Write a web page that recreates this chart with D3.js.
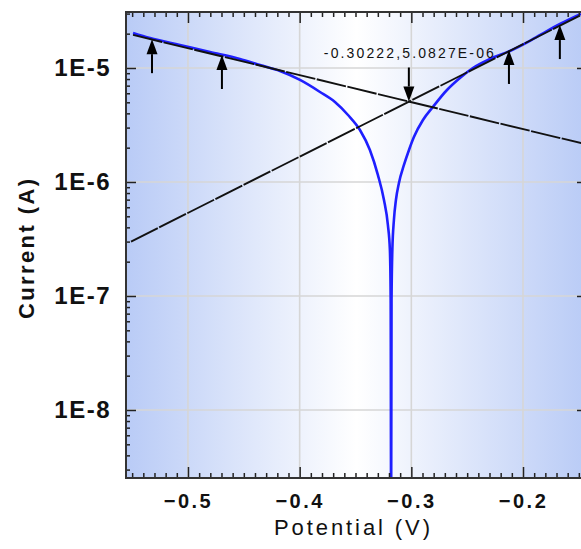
<!DOCTYPE html>
<meta charset="utf-8">
<style>
    body { margin: 0; background: #fff; }
    text { font-family: "Liberation Sans", Arial, sans-serif; fill: #111; }
</style>
<body>
<script src="https://cdn.jsdelivr.net/npm/d3@7"></script>
<script>

// measured polarization curve: potential (V) and current (A)
var potential = [-0.5492, -0.5340, -0.5072, -0.4803, -0.4535, -0.4355, -0.4176, -0.3997, -0.3818, -0.3684,
                 -0.3567, -0.3460, -0.3371, -0.3299, -0.3245, -0.3210, -0.3192, -0.3185, -0.31810, -0.31772,
                 -0.3170, -0.3156, -0.3138, -0.3111, -0.3066, -0.3021, -0.2977, -0.2896, -0.2807, -0.2681,
                 -0.2565, -0.2449, -0.2296, -0.2117, -0.1938, -0.1786, -0.1669, -0.1482];
var current = [2.03e-5, 1.83e-5, 1.59e-5, 1.38e-5, 1.20e-5, 1.06e-5, 9.4e-6, 7.85e-6, 6.16e-6, 5.03e-6,
               3.87e-6, 2.86e-6, 1.91e-6, 1.15e-6, 6.95e-7, 4.20e-7, 2.53e-7, 9.2e-8, 1e-9, 9.2e-8,
               2.53e-7, 4.64e-7, 6.95e-7, 9.8e-7, 1.41e-6, 1.91e-6, 2.48e-6, 3.50e-6, 4.55e-6, 6.41e-6,
               8.17e-6, 1.0e-5, 1.20e-5, 1.41e-5, 1.73e-5, 2.11e-5, 2.43e-5, 2.98e-5];

// tafel fit lines (end points)
var cathodicLine = [[-0.5492, 1.95e-5], [-0.1427, 2.13e-6]];
var anodicLine = [[-0.5510, 3.0e-7], [-0.1427, 3.1e-5]];

// fit points marked with arrows
var arrowV = [-0.5322, -0.4696, -0.2126, -0.1670];
var arrowI = [1.79e-5, 1.30e-5, 1.44e-5, 2.38e-5];

var corrosion = {v: -0.30222, i: 5.0827e-6, label: "-0.30222,5.0827E-06"};

var xTicks = [-0.5, -0.4, -0.3, -0.2];
var yTicks = [1e-8, 1e-7, 1e-6, 1e-5];

var width = 581, height = 549;
var plot = {left: 126, right: 587, top: 12, bottom: 478};

var svg = d3.select("body").append("svg")
    .attr("width", width)
    .attr("height", height);

var x = d3.scaleLinear()
    .domain([-0.5555, -0.1427])
    .range([plot.left, plot.right]);

var y = d3.scaleLog()
    .domain([2.532e-9, 3.098e-5])
    .range([plot.bottom, plot.top]);

var defs = svg.append("defs");
var grad = defs.append("linearGradient")
    .attr("id", "bg")
    .attr("x1", "0%").attr("x2", "100%")
    .attr("y1", "0%").attr("y2", "0%");
grad.append("stop").attr("offset", "0%").attr("stop-color", "#b9cbf6");
grad.append("stop").attr("offset", "50%").attr("stop-color", "#ffffff");
grad.append("stop").attr("offset", "100%").attr("stop-color", "#b9cbf6");

defs.append("clipPath").attr("id", "clip")
    .append("rect")
    .attr("x", plot.left).attr("y", plot.top)
    .attr("width", plot.right - plot.left)
    .attr("height", plot.bottom - plot.top);

svg.append("rect")
    .attr("x", plot.left).attr("y", plot.top)
    .attr("width", plot.right - plot.left)
    .attr("height", plot.bottom - plot.top)
    .style("fill", "url(#bg)");

// grid
var grid = svg.append("g").attr("class", "grid");
grid.selectAll(".vg").data(xTicks).enter().append("line")
    .attr("x1", d => x(d)).attr("x2", d => x(d))
    .attr("y1", plot.top).attr("y2", plot.bottom)
    .attr("stroke", "#d6d6d6").attr("stroke-width", 1.6);
grid.selectAll(".hg").data(yTicks).enter().append("line")
    .attr("x1", plot.left).attr("x2", plot.right)
    .attr("y1", d => y(d)).attr("y2", d => y(d))
    .attr("stroke", "#d6d6d6").attr("stroke-width", 1.6);

var curves = svg.append("g").attr("clip-path", "url(#clip)");

var pts = potential.map((v, i) => [v, current[i]]);

curves.append("path")
    .datum(pts)
    .attr("d", d3.line().x(d => x(d[0])).y(d => y(d[1])).curve(d3.curveMonotoneX))
    .attr("fill", "none")
    .attr("stroke", "#1f1fff")
    .attr("stroke-width", 2.6)
    .attr("stroke-linejoin", "round");

var straight = d3.line().x(d => x(d[0])).y(d => y(d[1]));
[cathodicLine, anodicLine].forEach(function(l) {
    curves.append("path")
        .datum(l)
        .attr("d", straight)
        .attr("fill", "none")
        .attr("stroke", "#111")
        .attr("stroke-width", 1.9)
        .attr("stroke-dasharray", "30,1.5");
});

// arrows at fit points
function arrow(g, tx, ty, dir) {
    // dir: -1 up (tip on top), 1 down (tip at bottom)
    var head = 15, len = 34, hw = 5.5;
    g.append("line")
        .attr("x1", tx).attr("x2", tx)
        .attr("y1", ty - dir * head).attr("y2", ty - dir * len)
        .attr("stroke", "#000").attr("stroke-width", 2);
    g.append("path")
        .attr("d", "M" + tx + "," + ty + "L" + (tx - hw) + "," + (ty - dir * head) +
             "L" + (tx + hw) + "," + (ty - dir * head) + "Z")
        .attr("fill", "#000");
}

var arrows = svg.append("g");
arrowV.forEach(function(v, i) {
    arrow(arrows, x(v), y(arrowI[i]), -1);
});
arrow(arrows, x(corrosion.v), y(corrosion.i), 1);

svg.append("text")
    .attr("x", x(corrosion.v))
    .attr("y", 58)
    .attr("text-anchor", "middle")
    .attr("textLength", 170)
    .attr("lengthAdjust", "spacing")
    .style("font-size", "14px")
    .text(corrosion.label);

// axes
var minorY = y.ticks().filter(d => yTicks.indexOf(d) < 0 && d > 2.6e-9);
var minorX = d3.range(-0.55, -0.14, 0.01).map(d => Math.round(d * 100) / 100)
    .filter(d => xTicks.indexOf(d) < 0);

function styleAxis(g) {
    g.select(".domain").remove();
    g.selectAll(".tick line").attr("stroke", "#222").attr("stroke-width", 1.5);
}

svg.append("g")
    .attr("transform", "translate(" + plot.left + ",0)")
    .call(d3.axisLeft(y).tickValues(minorY).tickSize(-4).tickFormat(""))
    .call(styleAxis);
svg.append("g")
    .attr("transform", "translate(" + plot.left + ",0)")
    .call(d3.axisLeft(y).tickValues(yTicks).tickSize(-10).tickPadding(15)
        .tickFormat(d => "1E" + Math.round(Math.log10(d))))
    .call(styleAxis)
    .selectAll("text")
    .style("font-size", "24px")
    .style("font-weight", "bold")
    .style("letter-spacing", "1.5px");

svg.append("g")
    .attr("transform", "translate(" + plot.right + ",0)")
    .call(d3.axisRight(y).tickValues(yTicks).tickSize(-10).tickFormat(""))
    .call(styleAxis);

svg.append("g")
    .attr("transform", "translate(0," + plot.bottom + ")")
    .call(d3.axisBottom(x).tickValues(minorX).tickSize(-5).tickFormat(""))
    .call(styleAxis);
svg.append("g")
    .attr("transform", "translate(0," + plot.bottom + ")")
    .call(d3.axisBottom(x).tickValues(xTicks).tickSize(-11).tickPadding(16)
        .tickFormat(d3.format(".1f")))
    .call(styleAxis)
    .selectAll("text")
    .style("font-size", "20px")
    .style("font-weight", "bold")
    .style("letter-spacing", "2.5px");

svg.append("g")
    .attr("transform", "translate(0," + plot.top + ")")
    .call(d3.axisTop(x).tickValues(minorX).tickSize(-5).tickFormat(""))
    .call(styleAxis);
svg.append("g")
    .attr("transform", "translate(0," + plot.top + ")")
    .call(d3.axisTop(x).tickValues(xTicks).tickSize(-11).tickFormat(""))
    .call(styleAxis);

// frame
svg.append("rect")
    .attr("x", plot.left).attr("y", plot.top)
    .attr("width", plot.right - plot.left)
    .attr("height", plot.bottom - plot.top)
    .attr("fill", "none")
    .attr("stroke", "#333")
    .attr("stroke-width", 2);

// titles
svg.append("text")
    .attr("x", 352)
    .attr("y", 535)
    .attr("text-anchor", "middle")
    .attr("textLength", 156)
    .attr("lengthAdjust", "spacing")
    .style("font-size", "22px")
    .text("Potential (V)");

svg.append("text")
    .attr("transform", "translate(34,249) rotate(-90)")
    .attr("text-anchor", "middle")
    .attr("textLength", 140)
    .attr("lengthAdjust", "spacing")
    .style("font-size", "22px")
    .style("font-weight", "bold")
    .text("Current (A)");

</script>
</body>
